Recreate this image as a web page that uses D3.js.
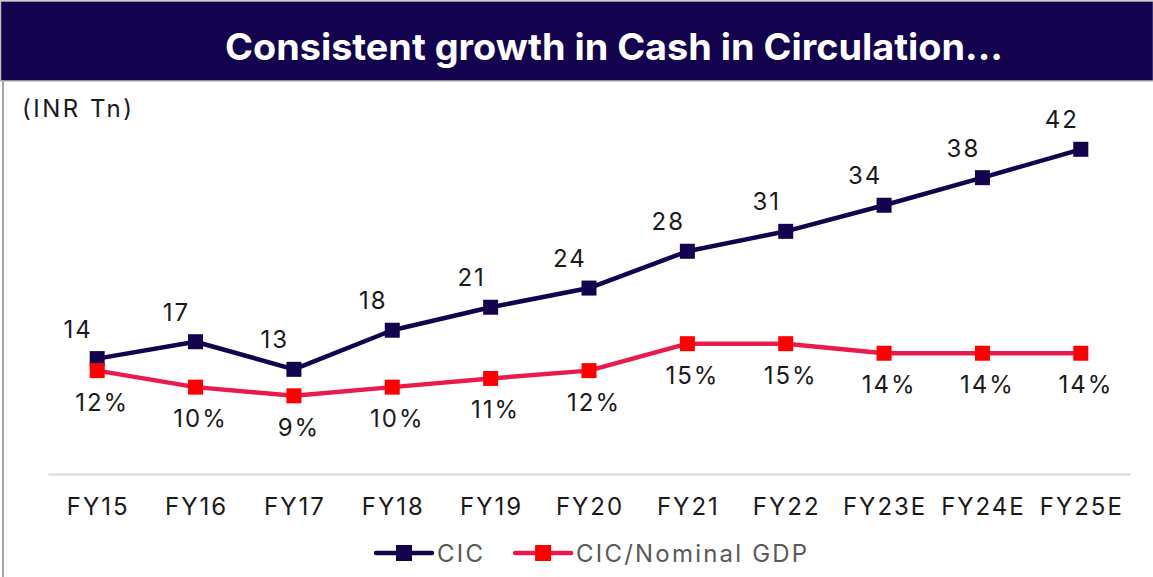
<!DOCTYPE html>
<html>
<head>
<meta charset="utf-8">
<script src="https://cdn.jsdelivr.net/npm/d3@7"></script>
<style>
    html, body { margin: 0; padding: 0; background: #fff; }
    svg { display: block; font-family: Inter, "DejaVu Sans", sans-serif; }
</style>
</head>
<body>
<div class="cic-chart"><svg></svg></div>
<script>
// 数据
var years = ["FY15", "FY16", "FY17", "FY18", "FY19", "FY20", "FY21", "FY22", "FY23E", "FY24E", "FY25E"];
var cicValues = [14.4, 16.6, 13.0, 18.1, 21.1, 23.6, 28.4, 31.0, 34.4, 38.0, 41.7];
var cicGdpValues = [11.9, 10.0, 9.0, 10.0, 11.0, 11.9, 15.0, 15.0, 13.9, 13.9, 13.9];
var seriesNames = ["CIC", "CIC/Nominal GDP"];
var titleText = "Consistent growth in Cash in Circulation...";
var unitText = "(INR Tn)";

var cfg = {
    "width": 1153,
    "height": 577,
    "navy": "#13034f",
    "lineRed": "#ea1a4c",
    "markRed": "#ff0000",
    "markSize": 15,
    "fontSize": 24,
    "spacing": 2,
    "x": {"left": 48, "right": 1130},
    "cic": {"domain": [0, 45], "range": [469, 124]},
    "pct": {"domain": [0, 16], "range": [474, 335]},
    "axisY": 474
};

var getSvg = function () {
    return d3.select(".cic-chart svg");
};

var init = function () {
    getSvg().attr("width", cfg.width).attr("height", cfg.height);
};

var xScale = d3.scaleBand().domain(years).range([cfg.x.left, cfg.x.right]);
var xMid = function (i) {
    return xScale(years[i]) + xScale.bandwidth() / 2;
};

/**
 * 标题栏和边框
 */
var drawFrame = function () {
    var svg = getSvg();
    svg.append("line")
        .attr("x1", 3).attr("x2", 3)
        .attr("y1", 80).attr("y2", cfg.height)
        .attr("stroke", "#a6a6a6").attr("stroke-width", 2);
    svg.append("rect")
        .attr("x", 0.5).attr("y", 1)
        .attr("width", cfg.width).attr("height", 80)
        .attr("fill", cfg.navy)
        .attr("stroke", "#bfbfbf").attr("stroke-width", 1.5);
    svg.append("text")
        .attr("x", 614).attr("y", 60)
        .attr("text-anchor", "middle")
        .attr("fill", "#fff")
        .attr("font-weight", 700)
        .attr("font-size", 37)
        .attr("textLength", 778)
        .attr("lengthAdjust", "spacingAndGlyphs")
        .text(titleText);
    svg.append("text")
        .attr("x", 22).attr("y", 117)
        .attr("fill", "#1a1a1a")
        .attr("font-size", 24)
        .attr("letter-spacing", 2.5)
        .text(unitText);
};

/**
 * 坐标轴
 */
var drawAxis = function () {
    var axis = d3.axisBottom(xScale).tickSize(0).tickSizeOuter(0).tickPadding(0);
    var g = getSvg().append("g")
        .attr("transform", "translate(0," + cfg.axisY + ")")
        .call(axis);
    g.select(".domain").attr("stroke", "#d9d9d9").attr("stroke-width", 2);
    g.selectAll("text")
        .attr("y", 41).attr("dy", 0)
        .attr("dx", cfg.spacing / 2)
        .attr("fill", "#1a1a1a")
        .attr("font-family", "Inter")
        .attr("font-size", cfg.fontSize)
        .attr("letter-spacing", cfg.spacing);
};

/**
 * 画折线 + 方块 + 标签
 */
var drawSeries = function (values, yScale, lineColor, markColor, labelFmt, dx, dy) {
    var g = getSvg().append("g");
    var line = d3.line()
        .x(function (d, i) { return xMid(i); })
        .y(function (d) { return yScale(d); });
    g.append("path")
        .attr("d", line(values))
        .attr("fill", "none")
        .attr("stroke", lineColor)
        .attr("stroke-width", 4.5)
        .attr("stroke-linejoin", "round");
    g.selectAll("rect")
        .data(values)
        .enter()
        .append("rect")
        .attr("x", function (d, i) { return xMid(i) - cfg.markSize / 2; })
        .attr("y", function (d) { return yScale(d) - cfg.markSize / 2; })
        .attr("width", cfg.markSize)
        .attr("height", cfg.markSize)
        .attr("fill", markColor);
    g.selectAll("text")
        .data(values)
        .enter()
        .append("text")
        .attr("x", function (d, i) { return xMid(i) + dx + cfg.spacing / 2; })
        .attr("y", function (d) { return yScale(d) + dy; })
        .attr("text-anchor", "middle")
        .attr("fill", "#1a1a1a")
        .attr("font-size", cfg.fontSize)
        .attr("letter-spacing", cfg.spacing)
        .text(labelFmt);
};

/**
 * 图例
 */
var drawLegend = function () {
    var svg = getSvg();
    var cy = 553, x = 376;
    var lineColors = [cfg.navy, cfg.lineRed], markColors = [cfg.navy, cfg.markRed];
    seriesNames.forEach(function (name, i) {
        var g = svg.append("g");
        g.append("line")
            .attr("x1", x).attr("x2", x + 56)
            .attr("y1", cy).attr("y2", cy)
            .attr("stroke", lineColors[i]).attr("stroke-width", 4.5)
            .attr("stroke-linecap", "round");
        g.append("rect")
            .attr("x", x + 28 - 8).attr("y", cy - 8)
            .attr("width", 16).attr("height", 16)
            .attr("fill", markColors[i]);
        var t = g.append("text")
            .attr("x", x + 61).attr("y", cy + 9)
            .attr("fill", "#595959")
            .attr("font-size", cfg.fontSize)
            .attr("letter-spacing", 2.2)
            .text(name);
        x = x + 61 + t.node().getComputedTextLength() + 30;
    });
};

init();
drawFrame();
drawAxis();
var cicScale = d3.scaleLinear().domain(cfg.cic.domain).range(cfg.cic.range);
var pctScale = d3.scaleLinear().domain(cfg.pct.domain).range(cfg.pct.range);
drawSeries(cicValues, cicScale, cfg.navy, cfg.navy, d3.format(".0f"), -20, -21);
drawSeries(cicGdpValues, pctScale, cfg.lineRed, cfg.markRed, function (d) { return d3.format(".0f")(d) + "%"; }, 4, 40);
drawLegend();
</script>
</body>
</html>
